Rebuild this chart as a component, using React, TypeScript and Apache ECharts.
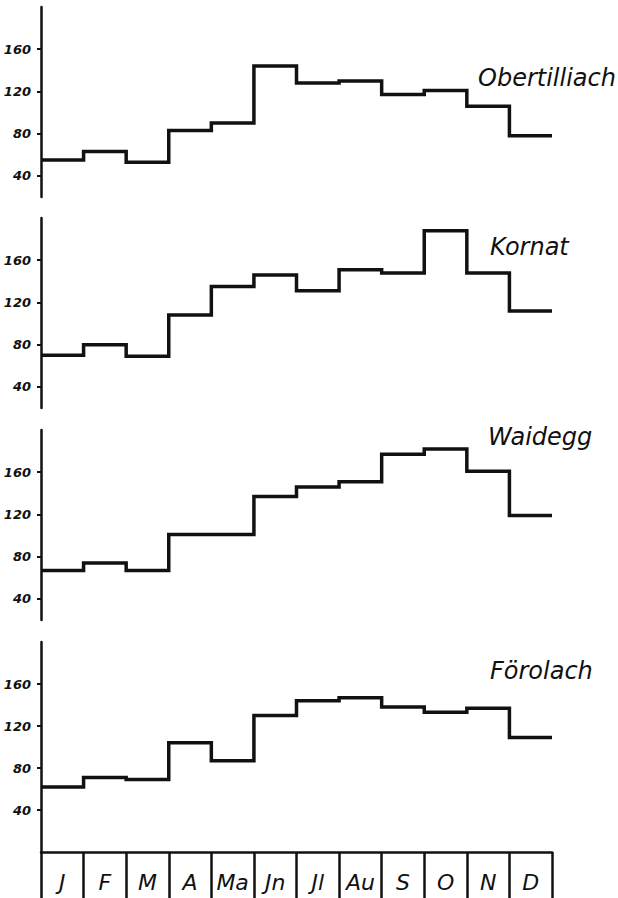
import React, { useEffect, useRef } from "react";
import * as echarts from "echarts";

const months = ["J", "F", "M", "A", "Ma", "Jn", "Jl", "Au", "S", "O", "N", "D"];
const stations = ["Obertilliach", "Kornat", "Waidegg", "Förolach"];
const obertilliach = [55, 63, 53, 83, 90, 144, 128, 130, 117, 121, 106, 78];
const kornat = [70, 80, 69, 108, 135, 146, 131, 151, 148, 188, 148, 112];
const waidegg = [67, 74, 67, 101, 101, 137, 146, 151, 177, 182, 161, 119];
const foerolach = [62, 71, 69, 104, 87, 130, 144, 147, 138, 133, 137, 109];
const yTicks = [40, 80, 120, 160];

const seriesValues = [obertilliach, kornat, waidegg, foerolach];

const INK = "#111";
const FONT = "DejaVu Sans";

export default function App() {
  const ref = useRef<HTMLDivElement>(null);

  useEffect(() => {
    if (!ref.current) return;
    const chart = echarts.init(ref.current, undefined, { renderer: "svg" });

    const gridTops = [7, 218, 430, 642];
    const gridHeights = [190, 190, 190, 210];
    const yMins = [20, 20, 20, 0];
    const labelPos = [
      [478, 78],
      [490, 247],
      [488, 437],
      [490, 671],
    ];

    const grids = gridTops.map((t, i) => ({
      left: 41,
      width: 511,
      top: t,
      height: gridHeights[i],
    }));

    const xAxes: any[] = gridTops.map((_, i) => ({
      type: "value",
      gridIndex: i,
      min: 0,
      max: 12,
      show: false,
    }));
    xAxes.push({
      type: "category",
      gridIndex: 3,
      data: months,
      boundaryGap: true,
      position: "bottom",
      axisLine: { show: true, lineStyle: { color: INK, width: 2.5 } },
      axisTick: {
        show: true,
        interval: 0,
        length: 46,
        lineStyle: { color: INK, width: 2.5 },
      },
      axisLabel: {
        interval: 0,
        margin: 19,
        color: INK,
        fontSize: 22,
        fontStyle: "italic",
        fontFamily: FONT,
      },
      splitLine: { show: false },
    });

    const yAxes = gridTops.map((_, i) => ({
      type: "value",
      gridIndex: i,
      min: yMins[i],
      max: 200,
      axisLine: { show: true, lineStyle: { color: INK, width: 2.5 } },
      axisTick: {
        show: true,
        length: 4,
        customValues: yTicks,
        lineStyle: { color: INK, width: 2 },
      },
      axisLabel: {
        customValues: yTicks,
        margin: 10,
        color: INK,
        fontSize: 13,
        fontWeight: "bold",
        fontStyle: "italic",
        fontFamily: FONT,
      },
      splitLine: { show: false },
    }));

    const series = seriesValues.map((vals, i) => ({
      type: "line",
      name: stations[i],
      xAxisIndex: i,
      yAxisIndex: i,
      step: "end",
      symbol: "none",
      lineStyle: { color: INK, width: 3.5, join: "miter" },
      data: vals.map((v, k) => [k, v]).concat([[vals.length, vals[vals.length - 1]]]),
    }));

    const graphic = stations.map((s, i) => ({
      type: "text",
      x: labelPos[i][0],
      y: labelPos[i][1],
      style: {
        text: s,
        fill: INK,
        fontSize: 24,
        fontStyle: "italic",
        fontFamily: FONT,
        verticalAlign: "middle",
        align: "left",
      },
    }));

    chart.setOption({
      animation: false,
      backgroundColor: "#fff",
      grid: grids,
      xAxis: xAxes,
      yAxis: yAxes,
      series,
      graphic,
    });

    return () => chart.dispose();
  }, []);

  return (
    <div
      ref={ref}
      style={{ position: "absolute", left: 0, top: 0, width: 618, height: 898, background: "#fff" }}
    />
  );
}
